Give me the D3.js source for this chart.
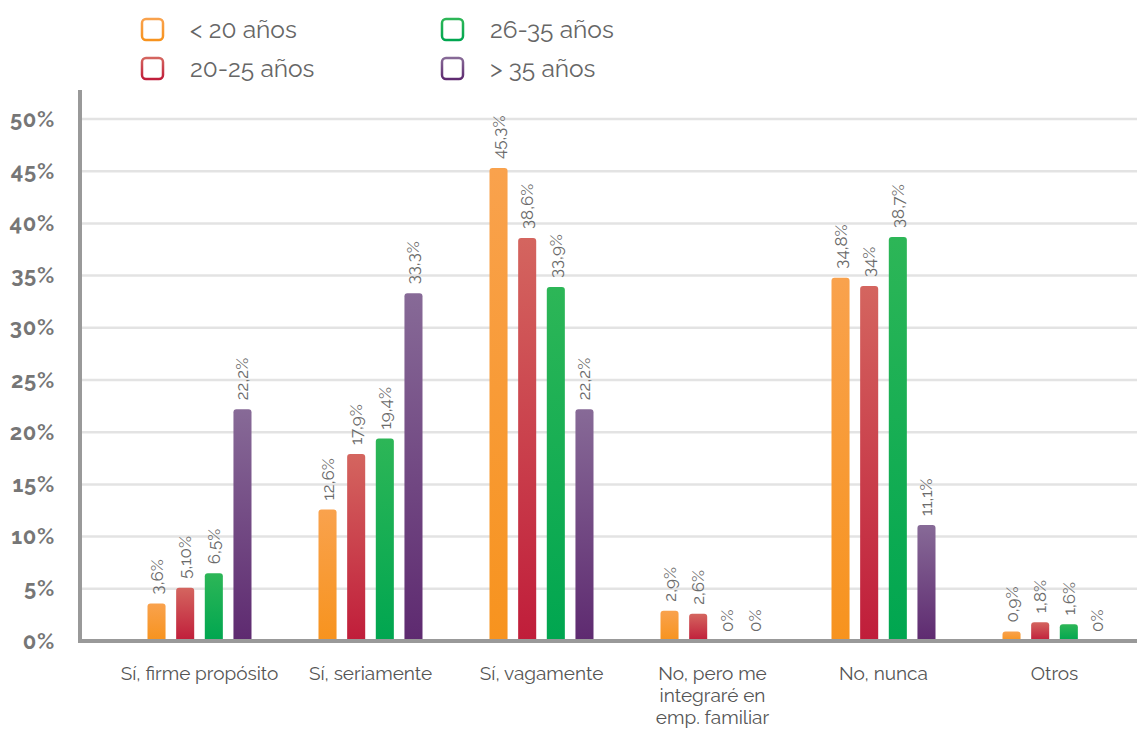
<!DOCTYPE html>
<html><head><meta charset="utf-8">
<script src="https://cdn.jsdelivr.net/npm/d3@7"></script>
<style>body{margin:0;background:#fff}svg{display:block}</style>
</head><body><svg id="c" width="1137" height="729"></svg>
<script>
const categories = [["Sí, firme propósito"],["Sí, seriamente"],["Sí, vagamente"],["No, pero me","integraré en","emp. familiar"],["No, nunca"],["Otros"]];
const seriesNames = ["< 20 años","20-25 años","26-35 años","> 35 años"];
const under20 = [3.6, 12.6, 45.3, 2.9, 34.8, 0.9];
const age20to25 = [5.1, 17.9, 38.6, 2.6, 34, 1.8];
const age26to35 = [6.5, 19.4, 33.9, 0, 38.7, 1.6];
const over35 = [22.2, 33.3, 22.2, 0, 11.1, 0];
const valueLabels = [
  ["3,6%","12,6%","45,3%","2,9%","34,8%","0,9%"],
  ["5,10%","17,9%","38,6%","2,6%","34%","1,8%"],
  ["6,5%","19,4%","33,9%","0%","38,7%","1,6%"],
  ["22,2%","33,3%","22,2%","0%","11,1%","0%"]
];
const yTicks = [0,5,10,15,20,25,30,35,40,45,50];

const series = [under20, age20to25, age26to35, over35];
const grads = [["#f9a24d","#f7931e"],["#d4655f","#c01d3a"],["#2db657","#00a650"],["#876a97","#5e2a70"]];
const font = "Raleway, Lato, 'Open Sans', sans-serif";

const svg = d3.select("#c");
const defs = svg.append("defs");
grads.forEach((g,i)=>{
  const lg = defs.append("linearGradient").attr("id","g"+i).attr("x1",0).attr("y1",0).attr("x2",0).attr("y2",1);
  lg.append("stop").attr("offset","0%").attr("stop-color",g[0]);
  lg.append("stop").attr("offset","100%").attr("stop-color",g[1]);
});

const y = d3.scaleLinear().domain([0,50]).range([641,119]);
const x0 = d3.scaleBand().domain(d3.range(categories.length)).range([114,1140]);
const x1 = d3.scaleBand().domain(d3.range(4)).range([0,104]).paddingInner(0.37);
const barOff = (x0.bandwidth()-104)/2;

// gridlines
svg.append("g").selectAll("line").data(yTicks.filter(d=>d>0)).join("line")
  .attr("x1",82).attr("x2",1137).attr("y1",d=>y(d)).attr("y2",d=>y(d))
  .attr("stroke","#e3e3e3").attr("stroke-width",2.5);

// y axis
const yAxis = d3.axisLeft(y).tickValues(yTicks).tickFormat(d=>d+"%").tickSize(0).tickPadding(25);
const yg = svg.append("g").attr("transform","translate(80,0)").call(yAxis);
yg.select(".domain").remove();
yg.selectAll("text").attr("font-family",font).attr("font-size",22).attr("font-weight",700).attr("fill","#767676").attr("letter-spacing",0.7);

// bars
function barPath(xp,w,yt,yb){
  const r = Math.min(3,(yb-yt));
  if (yb-yt<=0) return "";
  return `M${xp},${yb}V${yt+r}Q${xp},${yt} ${xp+r},${yt}H${xp+w-r}Q${xp+w},${yt} ${xp+w},${yt+r}V${yb}Z`;
}
series.forEach((vals,si)=>{
  const g = svg.append("g");
  g.selectAll("path").data(vals).join("path")
    .attr("d",(v,ci)=>barPath(x0(ci)+barOff+x1(si), x1.bandwidth(), y(v), y(0)))
    .attr("fill",`url(#g${si})`);
  g.selectAll("text").data(vals).join("text")
    .attr("transform",(v,ci)=>`translate(${x0(ci)+barOff+x1(si)+x1.bandwidth()/2+6},${y(v)-9}) rotate(-90)`)
    .attr("font-family",font).attr("font-size",17).attr("fill","#6a6a6a")
    .text((v,ci)=>valueLabels[si][ci]);
});

// axes lines
svg.append("line").attr("x1",78).attr("x2",1137).attr("y1",641).attr("y2",641).attr("stroke","#999").attr("stroke-width",4);
svg.append("line").attr("x1",80).attr("x2",80).attr("y1",90).attr("y2",643).attr("stroke","#999").attr("stroke-width",4);

// x labels
const xl = svg.append("g");
categories.forEach((lines,ci)=>{
  const t = xl.append("text").attr("font-family",font).attr("font-size",19).attr("fill","#555").attr("text-anchor","middle");
  lines.forEach((ln,li)=>t.append("tspan").attr("x",x0(ci)+x0.bandwidth()/2).attr("y",680+li*22).text(ln));
});

// legend
const legPos = [[141,18],[141,57],[441,18],[441,57]];
seriesNames.forEach((n,i)=>{
  const [lx,ly] = legPos[i];
  svg.append("rect").attr("x",lx+1).attr("y",ly+1).attr("width",21).attr("height",21).attr("rx",4)
    .attr("fill","none").attr("stroke",`url(#g${i})`).attr("stroke-width",2.5);
  svg.append("text").attr("x",lx+49).attr("y",ly+20).attr("font-family",font).attr("font-size",24.5).attr("fill","#666").text(n);
});
</script></body></html>
